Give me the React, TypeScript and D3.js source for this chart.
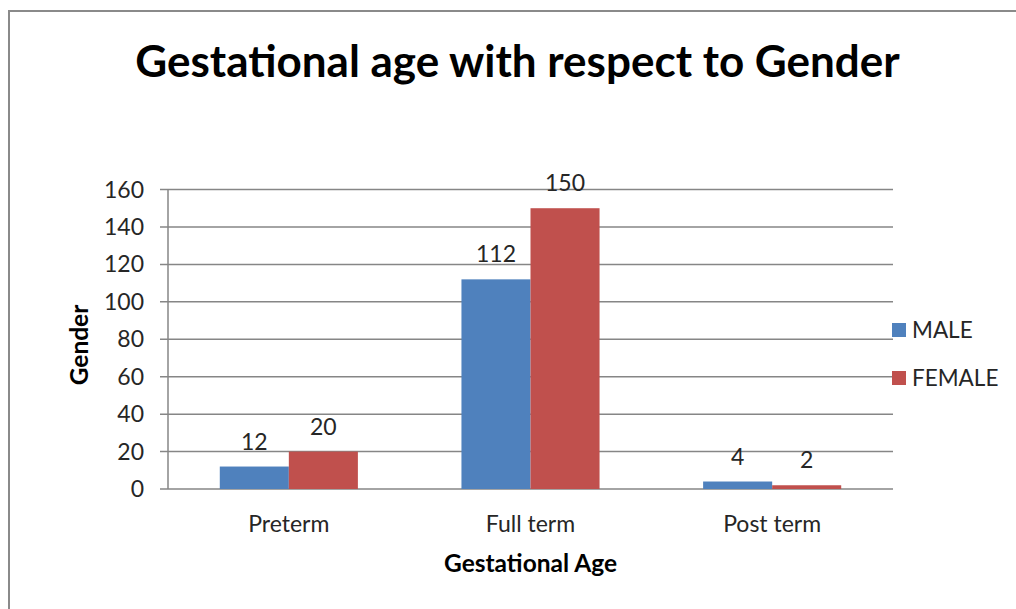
import React from "react";
import * as d3 from "d3";

const categories = ["Preterm", "Full term", "Post term"];
const seriesNames = ["MALE", "FEMALE"];
const maleValues = [12, 112, 4];
const femaleValues = [20, 150, 2];
const yTicks = [0, 20, 40, 60, 80, 100, 120, 140, 160];
const colors = ["#4F81BD", "#C0504D"];

const W = 1016;
const H = 609;
const plot = { left: 168, right: 893, top: 189.5, bottom: 489 };
const FONT = "Lato, 'Open Sans', sans-serif";
const TEXT = "#262626";

export default function App() {
  const x0 = d3.scaleBand<string>().domain(categories).range([plot.left, plot.right]).paddingInner(0).paddingOuter(0);
  const y = d3.scaleLinear().domain([0, 160]).range([plot.bottom, plot.top]);
  const band = x0.bandwidth();
  const barW = band / 3.5; // two bars plus a 150% gap
  const series = [maleValues, femaleValues];

  return (
    <svg width={W} height={H} style={{ position: "absolute", left: 0, top: 0, background: "#fff" }}>
      <rect x={0} y={0} width={W} height={H} fill="#fff" />
      <rect x={9} y={11} width={W + 10} height={H + 10} fill="none" stroke="#8a8a8a" strokeWidth={2} />
      <text x={517.5} y={77} textAnchor="middle" fontFamily={FONT} fontWeight="bold" fontSize={44} fill="#000">
        Gestational age with respect to Gender
      </text>

      {yTicks.map((t) => (
        <g key={t}>
          <line x1={plot.left - 8} x2={plot.right} y1={y(t)} y2={y(t)} stroke="#868686" strokeWidth={1.5} />
          <text x={plot.left - 24} y={y(t)} dy="0.35em" textAnchor="end" fontFamily={FONT} fontSize={23} fill={TEXT}>
            {t}
          </text>
        </g>
      ))}
      <line x1={plot.left} x2={plot.left} y1={plot.top} y2={plot.bottom} stroke="#868686" strokeWidth={1.5} />

      {categories.map((c, i) => {
        const cx = (x0(c) as number) + band / 2;
        return (
          <g key={c}>
            {series.map((vals, s) => {
              const bx = cx - barW + s * barW;
              const v = vals[i];
              return (
                <g key={s}>
                  <rect x={bx} y={y(v)} width={barW} height={plot.bottom - y(v)} fill={colors[s]} />
                  <text x={bx + barW / 2} y={y(v) - 17} textAnchor="middle" fontFamily={FONT} fontSize={23} fill={TEXT}>
                    {v}
                  </text>
                </g>
              );
            })}
            <text x={cx} y={532} textAnchor="middle" fontFamily={FONT} fontSize={23} fill={TEXT}>
              {c}
            </text>
          </g>
        );
      })}

      <text
        transform={`translate(88, 345) rotate(-90)`}
        textAnchor="middle"
        fontFamily={FONT}
        fontWeight="bold"
        fontSize={24.5}
        fill="#000"
      >
        Gender
      </text>
      <text x={530.5} y={572} textAnchor="middle" fontFamily={FONT} fontWeight="bold" fontSize={24.5} fill="#000">
        Gestational Age
      </text>

      {seriesNames.map((n, i) => (
        <g key={n}>
          <rect x={892} y={323 + i * 48} width={14} height={14} fill={colors[i]} />
          <text x={912} y={330 + i * 48} dy="0.35em" fontFamily={FONT} fontSize={22.5} fill={TEXT}>
            {n}
          </text>
        </g>
      ))}
    </svg>
  );
}
